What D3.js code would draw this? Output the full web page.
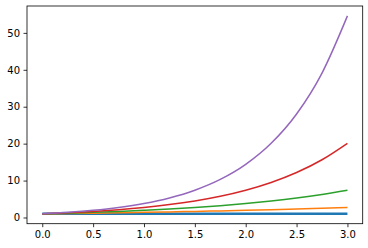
<html>
<head>
  <script src="https://d3js.org/d3.v7.min.js"></script>
  <style>
    body { margin: 0; background: #fff; }
    text { font-family: "DejaVu Sans", sans-serif; font-size: 10px; fill: #000; }
  </style>
</head>
<body>
  <svg id="chart" width="368" height="248"></svg>
  <script>
    var xs = [0, 0.25, 0.5, 0.75, 1, 1.25, 1.5, 1.75, 2, 2.25, 2.5, 2.75, 3];
    var blue   = [1, 1, 1, 1, 1, 1, 1, 1, 1, 1, 1, 1, 1];
    var orange = [1, 1.09, 1.18, 1.28, 1.40, 1.52, 1.65, 1.79, 1.95, 2.12, 2.30, 2.50, 2.72];
    var green  = [1, 1.18, 1.40, 1.65, 1.95, 2.30, 2.72, 3.21, 3.79, 4.48, 5.29, 6.25, 7.39];
    var red    = [1, 1.28, 1.65, 2.12, 2.72, 3.49, 4.48, 5.75, 7.39, 9.49, 12.18, 15.64, 20.09];
    var purple = [1, 1.40, 1.95, 2.72, 3.79, 5.29, 7.39, 10.31, 14.39, 20.09, 28.03, 39.12, 54.60];
    var xTicks = [0, 0.5, 1, 1.5, 2, 2.5, 3];
    var yTicks = [0, 10, 20, 30, 40, 50];

    var series = [
      {vals: blue, color: "#1f77b4", w: 2.4},
      {vals: orange, color: "#ff7f0e", w: 1.5},
      {vals: green, color: "#2ca02c", w: 1.5},
      {vals: red, color: "#d62728", w: 1.5},
      {vals: purple, color: "#9467bd", w: 1.5}
    ];

    var svg = d3.select("#chart");
    // axes box (window.top is reserved, so use a prefix)
    var boxL = 27, boxT = 6, boxR = 362.7, boxB = 223.7;

    var x = d3.scaleLinear().domain([-0.15, 3.15]).range([boxL, boxR]);
    var y = d3.scaleLinear().domain([-1.68, 57.28]).range([boxB, boxT]);

    var line = d3.line()
      .x(function(d) { return x(d[0]); })
      .y(function(d) { return y(d[1]); })
      .curve(d3.curveMonotoneX);

    svg.selectAll(".series")
      .data(series)
      .enter().append("path")
        .attr("class", "series")
        .attr("fill", "none")
        .attr("stroke", function(s) { return s.color; })
        .attr("stroke-width", function(s) { return s.w; })
        .attr("d", function(s) { return line(xs.map(function(v, i) { return [v, s.vals[i]]; })); });

    // axes
    var gx = svg.append("g")
      .attr("transform", "translate(0," + boxB + ")")
      .call(d3.axisBottom(x).tickValues(xTicks).tickFormat(d3.format(".1f")).tickSizeInner(3.5).tickSizeOuter(0).tickPadding(3.5));
    var gy = svg.append("g")
      .attr("transform", "translate(" + boxL + ",0)")
      .call(d3.axisLeft(y).tickValues(yTicks).tickFormat(d3.format("d")).tickSizeInner(3.5).tickSizeOuter(0).tickPadding(3.5));
    [gx, gy].forEach(function(g) {
      g.select(".domain").remove();
      g.selectAll(".tick line").attr("stroke", "#000").attr("stroke-width", 0.8);
      g.selectAll("text").style("font-family", "DejaVu Sans").style("font-size", "10px").attr("fill", "#000");
    });

    // frame
    svg.append("rect")
      .attr("x", boxL).attr("y", boxT)
      .attr("width", boxR - boxL).attr("height", boxB - boxT)
      .attr("fill", "none").attr("stroke", "#000").attr("stroke-width", 0.8);
  </script>
</body>
</html>
